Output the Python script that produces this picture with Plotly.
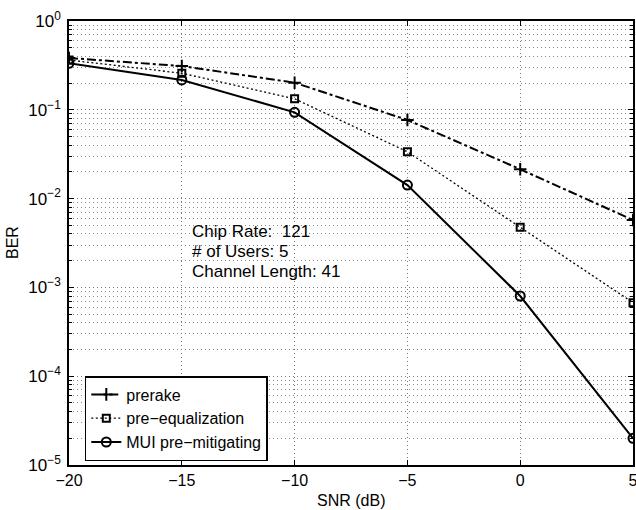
import plotly.graph_objects as go

snr = [-20, -15, -10, -5, 0, 5]
prerake = [0.383, 0.311, 0.202, 0.0768, 0.0214, 0.00574]
pre_eq = [0.364, 0.258, 0.133, 0.0337, 0.00475, 0.000673]
mui = [0.334, 0.217, 0.0937, 0.0142, 0.00080, 0.0000200]

x_ticks = [-20, -15, -10, -5, 0, 5]
x_ticktext = ["\u221220", "\u221215", "\u221210", "\u22125", "0", "5"]
y_ticks = [1e-5, 1e-4, 1e-3, 1e-2, 1e-1, 1]
y_ticktext = ["10<sup>\u22125</sup>", "10<sup>\u22124</sup>", "10<sup>\u22123</sup>",
              "10<sup>\u22122</sup>", "10<sup>\u22121</sup>", "10<sup>0</sup>"]
annot_lines = ["Chip Rate:  121", "# of Users: 5", "Channel Length: 41"]
x_title = "SNR (dB)"
y_title = "BER"

FONT = "Liberation Sans, Arial, Helvetica"
GRID = "1px,3px"

fig = go.Figure()
fig.add_trace(go.Scatter(x=snr, y=prerake, name="prerake", mode="lines+markers",
                         line=dict(color="black", width=2, dash="dashdot"),
                         marker=dict(symbol="cross-thin", size=9, line=dict(color="black", width=2))))
fig.add_trace(go.Scatter(x=snr, y=pre_eq, name="pre\u2212equalization", mode="lines+markers",
                         line=dict(color="black", width=1.3, dash="2px,2.5px"),
                         marker=dict(symbol="square-open", size=7, color="black", line=dict(color="black", width=2))))
fig.add_trace(go.Scatter(x=snr, y=mui, name="MUI pre\u2212mitigating", mode="lines+markers",
                         line=dict(color="black", width=2),
                         marker=dict(symbol="circle-open", size=9, color="black", line=dict(color="black", width=2))))

for i, line in enumerate(annot_lines):
    fig.add_annotation(x=0.2145, y=0.526 - i * 0.045, xref="paper", yref="paper",
                       xanchor="left", yanchor="middle", text=line, showarrow=False,
                       font=dict(size=17, color="black", family=FONT))

# axis titles as annotations (placed outside plot area like the original)
fig.add_annotation(x=0.5, y=-0.079, xref="paper", yref="paper", xanchor="center", yanchor="middle",
                   text=x_title, showarrow=False, font=dict(size=16, color="black", family=FONT))
fig.add_annotation(x=-0.101, y=0.5, xref="paper", yref="paper", xanchor="center", yanchor="middle",
                   text=y_title, textangle=-90, showarrow=False, font=dict(size=16, color="black", family=FONT))

fig.update_layout(
    width=636, height=510,
    margin=dict(l=69, r=3, t=21, b=45),
    plot_bgcolor="white", paper_bgcolor="white",
    font=dict(family=FONT, size=16, color="black"),
    showlegend=True,
    legend=dict(x=0.028, y=0.009, xanchor="left", yanchor="bottom",
                bgcolor="white", bordercolor="black", borderwidth=1.5,
                font=dict(size=16), tracegroupgap=0, itemwidth=30),
    xaxis=dict(range=[-20, 5], tickvals=x_ticks, ticktext=x_ticktext,
               tickfont=dict(size=16), ticklabeloverflow="allow",
               ticks="inside", ticklen=5, tickwidth=1, tickcolor="black",
               showline=True, linecolor="black", linewidth=1.5, mirror="ticks",
               showgrid=True, gridcolor="#777", gridwidth=1, griddash=GRID,
               zeroline=False, automargin=False),
    yaxis=dict(type="log", range=[-5, 0], tickvals=y_ticks, ticktext=y_ticktext,
               tickfont=dict(size=17), ticklabelstandoff=3, ticklabeloverflow="allow",
               ticks="inside", ticklen=5, tickwidth=1, tickcolor="black",
               showline=True, linecolor="black", linewidth=1.5, mirror="ticks",
               showgrid=True, gridcolor="#777", gridwidth=1, griddash=GRID,
               minor=dict(dtick="D1", ticks="inside", ticklen=3, tickcolor="black",
                          showgrid=True, gridcolor="#888", gridwidth=1, griddash=GRID),
               zeroline=False, automargin=False),
)

fig.write_html("out.html", config={"displayModeBar": False},
               post_script="document.body.style.margin='0';document.body.style.overflow='hidden';")
